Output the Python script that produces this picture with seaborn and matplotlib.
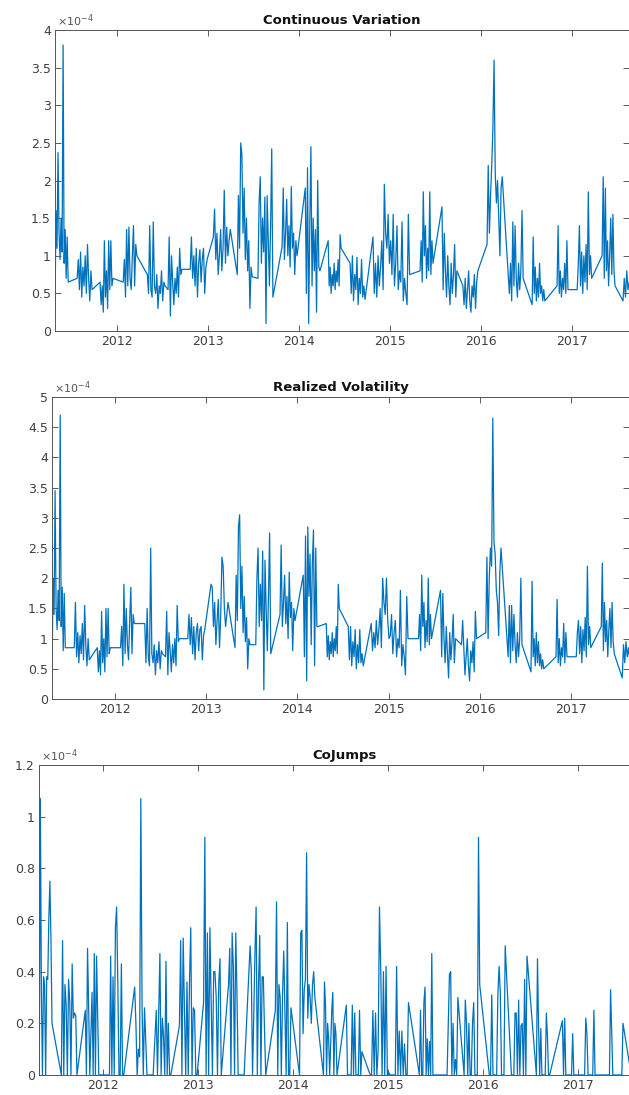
import matplotlib
matplotlib.use("Agg")
import matplotlib.pyplot as plt
import matplotlib.dates as mdates
from matplotlib.ticker import FuncFormatter, MultipleLocator
import numpy as np
import pandas as pd
import seaborn as sns

# trading-day blocks (data gaps in between are bridged by straight lines)
seg_start = ["2011-04-26", "2011-07-24", "2011-10-24", "2012-01-25", "2012-05-01",
             "2012-07-23", "2012-10-20", "2013-01-21", "2013-04-27", "2013-07-19",
             "2013-10-24", "2014-01-25", "2014-04-27", "2014-07-24", "2014-10-24",
             "2015-05-01", "2015-07-28", "2015-10-20", "2016-01-25", "2016-04-19",
             "2016-07-24", "2016-11-01", "2017-01-21", "2017-05-01", "2017-07-24"]
seg_end = ["2011-06-18", "2011-09-22", "2011-12-15", "2012-03-20", "2012-07-11",
           "2012-09-17", "2012-12-27", "2013-03-30", "2013-06-26", "2013-09-17",
           "2013-12-23", "2014-03-25", "2014-06-18", "2014-09-22", "2015-03-20",
           "2015-06-22", "2015-09-26", "2015-12-19", "2016-03-26", "2016-06-18",
           "2016-09-13", "2016-12-15", "2017-03-20", "2017-06-22", "2017-08-28"]

# values in units of 1e-4, one list per block
cv_vals = [
    [0.2, 1.6, 1.1, 2.37, 1.3, 0.95, 1.5, 1.05, 3.8, 0.9, 1.35, 0.7, 1.25, 0.65],
    [0.7, 0.95, 0.55, 1.05, 0.45, 0.85, 0.6, 1.0, 0.5, 1.15, 0.7, 0.4, 0.8, 0.55],
    [0.65, 0.35, 0.6, 0.25, 1.2, 0.45, 0.8, 0.3, 1.2, 0.55, 1.2, 0.6, 0.7],
    [0.65, 0.95, 0.45, 1.35, 0.6, 1.38, 0.7, 0.55, 1.0, 1.4, 0.6, 1.15, 1.0],
    [0.75, 0.5, 1.4, 0.55, 0.45, 1.45, 0.6, 0.5, 0.75, 0.3, 0.6, 0.5, 0.8, 0.4, 0.65, 0.6],
    [0.55, 1.25, 0.2, 1.0, 0.65, 0.35, 0.7, 0.5, 0.85, 0.45, 1.1, 0.75, 0.82],
    [0.82, 1.25, 0.7, 1.0, 0.6, 1.1, 0.45, 0.9, 1.08, 0.65, 0.95, 1.1, 0.5, 0.85, 0.95],
    [1.25, 1.62, 0.95, 1.3, 0.75, 1.0, 1.35, 0.8, 1.1, 1.87, 0.9, 1.38, 1.0, 1.2, 1.35],
    [0.75, 1.8, 1.1, 2.5, 2.35, 1.3, 1.9, 0.95, 1.5, 0.8, 1.2, 0.3, 0.85, 0.72],
    [0.7, 1.7, 2.05, 0.9, 1.5, 1.05, 1.78, 0.1, 1.8, 1.2, 0.6, 1.4, 2.42, 0.45],
    [1.12, 1.9, 0.95, 1.3, 1.75, 1.0, 1.4, 0.85, 1.92, 1.1, 1.3, 0.75, 1.2, 1.0],
    [1.9, 0.5, 2.17, 0.1, 1.4, 2.45, 0.6, 1.5, 0.8, 1.35, 0.25, 2.0, 0.85, 0.8],
    [1.2, 0.6, 0.85, 0.5, 0.75, 0.6, 0.9, 0.55, 0.8, 0.65, 0.95, 0.6, 1.28, 1.1],
    [0.9, 0.5, 1.0, 0.4, 0.75, 0.55, 0.98, 0.35, 0.7, 0.5, 0.95, 0.45, 0.6, 0.42],
    [1.25, 0.5, 0.9, 0.45, 1.0, 0.6, 0.85, 1.2, 0.55, 1.95, 1.3, 1.1, 1.55, 0.9, 1.2,
     0.75, 1.55, 0.6, 0.9, 1.4, 0.55, 0.8, 0.65, 1.45, 0.4, 0.7, 0.5, 0.35, 1.55, 0.75],
    [0.8, 1.2, 0.65, 1.85, 1.0, 1.4, 0.7, 1.1, 0.8, 1.85, 0.75, 1.2, 0.9],
    [1.65, 0.55, 1.3, 0.8, 0.45, 1.0, 0.6, 0.35, 0.9, 0.5, 0.75, 1.15, 0.45, 0.8],
    [0.6, 0.35, 0.7, 0.3, 0.55, 0.8, 0.4, 0.25, 0.6, 0.45, 0.75, 0.3, 0.65, 0.8],
    [1.15, 2.2, 1.3, 1.8, 2.2, 2.7, 3.6, 2.1, 1.7, 2.0, 1.5, 1.0, 1.9, 2.05],
    [0.75, 0.5, 0.9, 0.4, 1.45, 0.6, 1.4, 0.7, 0.45, 0.9, 0.55, 0.8, 1.6, 0.7],
    [0.35, 1.25, 0.5, 0.85, 0.4, 0.7, 0.45, 0.9, 0.5, 0.6, 0.4, 0.55, 0.4],
    [0.6, 1.4, 0.5, 0.8, 0.45, 0.7, 0.55, 0.9, 0.5, 1.2, 0.55],
    [0.55, 0.9, 1.4, 0.6, 1.05, 0.5, 1.0, 0.65, 1.15, 0.55, 1.85, 0.75, 1.0, 0.7],
    [1.0, 2.05, 0.7, 1.9, 0.8, 1.2, 0.6, 1.0, 1.5, 0.75, 1.55, 0.8, 0.6],
    [0.4, 0.7, 0.45, 0.8, 0.55, 0.65, 0.5, 0.75],
]

rv_vals = [
    [0.3, 2.0, 1.4, 3.45, 1.5, 1.15, 1.8, 1.3, 4.7, 1.2, 1.85, 0.8, 1.75, 0.85],
    [0.85, 1.6, 0.7, 1.1, 0.6, 1.05, 0.75, 1.25, 0.65, 1.55, 0.9, 0.55, 1.0, 0.65],
    [0.85, 0.45, 0.8, 0.4, 1.45, 0.6, 1.0, 0.45, 1.5, 0.7, 1.5, 0.75, 0.85],
    [0.85, 1.2, 0.55, 1.9, 0.75, 1.5, 0.9, 0.65, 1.3, 1.85, 0.75, 1.4, 1.25],
    [1.25, 0.6, 1.5, 0.7, 0.55, 2.5, 0.75, 0.6, 0.9, 0.4, 0.8, 0.6, 0.95, 0.5, 0.8, 0.75],
    [0.7, 1.45, 0.4, 1.1, 0.8, 0.45, 0.9, 0.6, 1.0, 0.55, 1.55, 0.95, 1.0],
    [1.0, 1.4, 0.9, 1.35, 0.75, 1.2, 0.65, 1.1, 1.25, 0.8, 1.15, 1.2, 0.65, 1.05, 1.15],
    [1.9, 1.85, 1.2, 1.6, 0.9, 1.3, 1.65, 0.85, 1.4, 2.35, 2.2, 1.5, 1.2, 1.4, 1.6],
    [0.85, 2.05, 1.3, 2.85, 3.05, 1.5, 2.2, 1.1, 1.7, 0.95, 1.35, 0.5, 1.0, 0.9],
    [0.9, 2.0, 2.5, 1.2, 1.9, 1.3, 2.45, 0.15, 2.3, 1.5, 0.8, 1.7, 2.75, 0.75],
    [1.4, 2.55, 1.2, 1.6, 2.05, 1.25, 1.7, 1.0, 2.1, 1.35, 1.6, 0.8, 1.5, 1.3],
    [2.05, 0.7, 2.7, 0.3, 2.85, 1.7, 2.4, 0.9, 2.25, 2.8, 0.55, 2.5, 1.2, 1.2],
    [1.25, 0.7, 1.05, 0.65, 0.95, 0.75, 1.1, 0.7, 1.0, 0.8, 1.2, 0.75, 1.9, 1.5],
    [1.2, 0.65, 1.2, 0.55, 0.95, 0.7, 1.15, 0.5, 0.9, 0.6, 1.15, 0.6, 0.75, 0.55],
    [1.25, 0.8, 1.1, 0.85, 1.3, 0.9, 1.15, 1.5, 0.85, 2.0, 1.6, 1.4, 2.0, 1.3, 1.0,
     1.05, 1.4, 0.75, 1.1, 1.3, 0.7, 1.0, 0.85, 1.8, 0.55, 0.9, 0.7, 0.4, 1.7, 1.0],
    [1.0, 1.4, 0.8, 2.05, 1.2, 1.6, 0.85, 1.3, 0.95, 2.0, 0.9, 1.4, 1.0],
    [1.8, 0.7, 1.75, 1.0, 0.6, 1.2, 0.75, 0.35, 1.1, 0.65, 0.95, 1.4, 0.6, 1.0],
    [0.9, 1.3, 0.85, 0.4, 0.7, 1.0, 0.55, 0.3, 0.8, 0.6, 0.95, 0.45, 1.45, 1.0],
    [1.1, 2.35, 1.0, 2.0, 2.5, 2.2, 4.65, 2.6, 2.4, 1.8, 1.6, 1.05, 2.1, 2.5],
    [1.0, 0.7, 1.55, 0.6, 1.55, 0.8, 1.4, 0.9, 0.6, 1.1, 0.7, 1.0, 2.0, 0.9],
    [0.45, 1.95, 0.7, 1.0, 0.55, 1.1, 0.6, 0.95, 0.55, 0.75, 0.5, 0.65, 0.5],
    [0.7, 1.65, 0.6, 1.0, 0.55, 0.85, 0.7, 1.25, 0.6, 1.1, 0.7],
    [0.7, 1.1, 1.3, 0.75, 1.2, 0.6, 1.15, 0.8, 1.35, 0.7, 2.2, 0.9, 1.2, 0.85],
    [1.2, 2.25, 0.8, 1.6, 0.95, 1.3, 0.7, 1.15, 1.5, 0.85, 1.6, 0.95, 0.75],
    [0.35, 0.9, 0.6, 0.95, 0.7, 0.85, 0.65, 0.9],
]

cj_vals = [
    [0.43, 0.0, 1.07, 0.32, 0.0, 0.38, 0.35, 0.0, 0.38, 0.37, 0.6, 0.75, 0.53, 0.2],
    [0.0, 0.52, 0.0, 0.35, 0.27, 0.0, 0.37, 0.28, 0.0, 0.43, 0.22, 0.24, 0.23, 0.0],
    [0.25, 0.0, 0.49, 0.26, 0.0, 0.16, 0.32, 0.0, 0.47, 0.0, 0.46, 0.23, 0.0],
    [0.0, 0.46, 0.0, 0.38, 0.0, 0.57, 0.65, 0.36, 0.0, 0.0, 0.43, 0.0, 0.0],
    [0.34, 0.2, 0.0, 0.1, 0.07, 1.07, 0.27, 0.0, 0.26, 0.13, 0.0, 0.0, 0.0, 0.0, 0.0, 0.0],
    [0.25, 0.0, 0.24, 0.47, 0.0, 0.22, 0.15, 0.0, 0.44, 0.0, 0.2, 0.0, 0.0],
    [0.19, 0.52, 0.0, 0.53, 0.25, 0.0, 0.36, 0.0, 0.36, 0.57, 0.0, 0.26, 0.25, 0.0, 0.0],
    [0.28, 0.92, 0.0, 0.55, 0.0, 0.57, 0.28, 0.0, 0.4, 0.4, 0.3, 0.0, 0.35, 0.45, 0.0],
    [0.35, 0.49, 0.0, 0.55, 0.42, 0.0, 0.55, 0.32, 0.0, 0.0, 0.0, 0.0, 0.0, 0.0],
    [0.5, 0.4, 0.0, 0.22, 0.47, 0.65, 0.0, 0.35, 0.54, 0.0, 0.38, 0.38, 0.17, 0.0],
    [0.25, 0.67, 0.0, 0.35, 0.3, 0.0, 0.31, 0.48, 0.25, 0.0, 0.59, 0.0, 0.0, 0.26],
    [0.0, 0.55, 0.56, 0.16, 0.33, 0.37, 0.86, 0.22, 0.35, 0.3, 0.2, 0.35, 0.4, 0.3],
    [0.0, 0.36, 0.27, 0.0, 0.2, 0.14, 0.0, 0.12, 0.25, 0.32, 0.0, 0.2, 0.16, 0.0],
    [0.27, 0.0, 0.0, 0.0, 0.0, 0.27, 0.0, 0.24, 0.0, 0.0, 0.0, 0.25, 0.0, 0.09],
    [0.0, 0.0, 0.25, 0.0, 0.24, 0.0, 0.1, 0.65, 0.4, 0.0, 0.4, 0.0, 0.42, 0.0, 0.01,
     0.0, 0.0, 0.0, 0.0, 0.0, 0.42, 0.0, 0.17, 0.0, 0.17, 0.0, 0.12, 0.0, 0.0, 0.28],
    [0.0, 0.25, 0.0, 0.0, 0.28, 0.34, 0.0, 0.14, 0.0, 0.13, 0.0, 0.47, 0.0],
    [0.0, 0.0, 0.0, 0.0, 0.0, 0.2, 0.39, 0.4, 0.0, 0.2, 0.0, 0.06, 0.0, 0.3],
    [0.0, 0.29, 0.2, 0.0, 0.2, 0.0, 0.0, 0.2, 0.28, 0.0, 0.0, 0.0, 0.92, 0.35],
    [0.0, 0.0, 0.31, 0.0, 0.0, 0.0, 0.0, 0.31, 0.42, 0.32, 0.0, 0.0, 0.0, 0.5],
    [0.0, 0.0, 0.0, 0.24, 0.24, 0.0, 0.29, 0.0, 0.19, 0.2, 0.0, 0.37, 0.0, 0.46],
    [0.0, 0.45, 0.18, 0.0, 0.18, 0.0, 0.0, 0.0, 0.0, 0.24, 0.15, 0.0, 0.0],
    [0.21, 0.0, 0.22, 0.0, 0.0, 0.0, 0.0, 0.0, 0.0, 0.16, 0.0],
    [0.0, 0.0, 0.22, 0.16, 0.0, 0.0, 0.0, 0.0, 0.0, 0.25, 0.0, 0.0, 0.0, 0.0],
    [0.0, 0.33, 0.17, 0.0, 0.0, 0.0, 0.0, 0.0, 0.0, 0.0, 0.0, 0.0, 0.2],
    [0.0, 0.0, 0.0, 0.0, 0.0, 0.0, 0.0, 0.0],
]

titles = ["Continuous Variation", "Realized Volatility", "CoJumps"]
y_max = [4, 5, 1.2]
y_step = [0.5, 0.5, 0.2]


def build_frame():
    dates = []
    for s, e, v in zip(seg_start, seg_end, cv_vals):
        dates.extend(pd.date_range(s, e, periods=len(v)))
    df = pd.DataFrame({"date": dates})
    df["cv"] = np.concatenate(cv_vals) * 1e-4
    df["rv"] = np.concatenate(rv_vals) * 1e-4
    df["cj"] = np.concatenate(cj_vals) * 1e-4
    return df


def main():
    df = build_frame()
    sns.set_style("ticks")
    plt.rcParams["font.family"] = ["DejaVu Sans"]

    fig = plt.figure(figsize=(6.29, 10.95), dpi=100)
    boxes = [[0.0874, 0.6977, 0.9126, 0.2749],
             [0.0827, 0.3616, 0.9173, 0.2758],
             [0.0620, 0.0183, 0.9714, 0.2831]]
    xlims = [("2011-04-26", "2017-08-17"),
             ("2011-04-26", "2017-08-20"),
             ("2011-04-29", "2017-10-04")]
    cols = ["cv", "rv", "cj"]
    grey = "#404040"

    for i, c in enumerate(cols):
        ax = fig.add_axes(boxes[i])
        sns.lineplot(data=df, x="date", y=c, ax=ax, color="#0072BD",
                     linewidth=0.9, sort=False, estimator=None)
        ax.set_xlim(pd.Timestamp(xlims[i][0]), pd.Timestamp(xlims[i][1]))
        ax.set_ylim(0, y_max[i] * 1e-4)
        ax.yaxis.set_major_locator(MultipleLocator(y_step[i] * 1e-4))
        ax.yaxis.set_major_formatter(FuncFormatter(lambda v, p: f"{v / 1e-4:g}"))
        ax.xaxis.set_major_locator(mdates.YearLocator())
        ax.xaxis.set_major_formatter(mdates.DateFormatter("%Y"))
        ax.set_xlabel("")
        ax.set_ylabel("")
        ax.tick_params(direction="in", length=4, width=0.6, top=True, right=True,
                       labelsize=9, pad=3, colors=grey, labelcolor=grey)
        for sp in ax.spines.values():
            sp.set_visible(True)
            sp.set_color("#555555")
            sp.set_linewidth(0.7)
        ax.set_title(titles[i], fontweight="bold", fontsize=9.5, pad=4, color="#111111")
        ax.text(0.003, 1.004, r"$\times10^{-4}$", transform=ax.transAxes,
                ha="left", va="bottom", fontsize=8, color="#555555")

    fig.savefig("out.png", dpi=100)
    plt.close(fig)


if __name__ == '__main__':
    main()
